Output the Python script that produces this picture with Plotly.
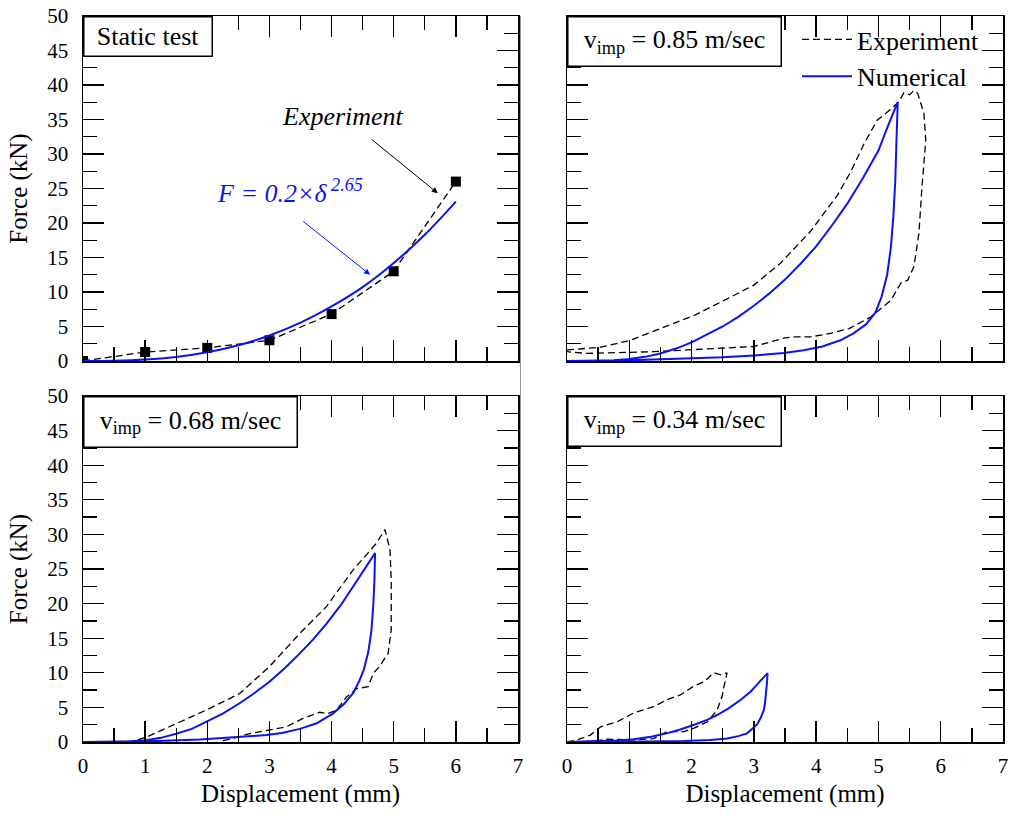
import plotly.graph_objects as go
from plotly.subplots import make_subplots

# ---- data ----
static_disp = [0, 1, 2, 3, 4, 5, 6]
static_force = [0.0, 1.3, 1.9, 3.0, 6.8, 13.0, 26.0]

fit_disp = [0, 0.5, 1, 1.5, 2, 2.5, 3, 3.5, 4, 4.5, 5, 5.5, 6]
fit_force = [0, 0.03, 0.2, 0.59, 1.26, 2.27, 3.69, 5.55, 7.9, 10.7, 14.2, 18.3, 23.1]

exp85_disp = [0, 0.54, 1.02, 1.55, 2.04, 2.57, 3.0, 3.43, 3.91, 4.34, 4.56, 4.77, 4.98, 5.2, 5.33,
              5.41, 5.5, 5.57, 5.63, 5.73, 5.76, 5.7, 5.65, 5.57, 5.47, 5.36, 5.2, 4.88, 4.53, 4.23,
              3.91, 3.64, 3.48, 3.0, 2.47, 1.93, 1.39, 0.86, 0.32, 0]
exp85_force = [1.6, 2.0, 3.0, 4.9, 6.6, 9.0, 11.0, 14.2, 18.8, 24.0, 27.5, 31.5, 34.9, 36.5, 37.6,
               38.9, 38.6, 39.2, 38.8, 35.9, 32.0, 25.3, 18.5, 13.7, 11.7, 11.3, 8.8, 6.4, 4.7, 4.0,
               3.5, 3.5, 3.3, 2.1, 1.8, 1.6, 1.35, 1.2, 1.1, 1.35]

num85_disp = [0, 0.5, 0.75, 1.0, 1.25, 1.5, 1.75, 2.0, 2.25, 2.5, 2.75, 3.0, 3.25, 3.5, 3.75,
              4.0, 4.25, 4.5, 4.75, 5.0, 5.15, 5.31,
              5.29, 5.27, 5.24, 5.2, 5.14, 5.05, 4.95, 4.8, 4.6, 4.39, 4.1, 3.8, 3.48, 3.0,
              2.5, 2.0, 1.5, 1.0, 0.5, 0]
num85_force = [0, 0.05, 0.12, 0.3, 0.6, 1.1, 1.8, 2.7, 3.8, 5.0, 6.4, 8.0, 9.8, 11.8, 14.1,
               16.6, 19.6, 22.8, 26.5, 30.5, 34.0, 37.5,
               32.0, 26.0, 21.0, 16.5, 12.5, 9.3, 7.0, 5.3, 4.0, 3.0, 2.1, 1.55, 1.15, 0.8,
               0.55, 0.38, 0.22, 0.1, 0.03, 0]

exp68_disp = [0, 0.8, 1.02, 1.5, 1.98, 2.52, 3.0, 3.49, 3.92, 4.35, 4.56, 4.72, 4.86,
              4.94, 4.96, 4.96, 4.91, 4.77, 4.67, 4.59, 4.4, 4.24, 4.08, 3.94, 3.81, 3.54,
              3.27, 3.0, 2.68, 2.41, 2.2]
exp68_force = [0, 0.1, 0.7, 2.7, 4.6, 7.0, 10.9, 15.7, 19.6, 24.9, 27.0, 28.7, 30.7,
               27.8, 23.4, 16.2, 12.8, 10.9, 9.9, 8.0, 7.7, 6.5, 4.6, 4.1, 4.3, 3.4,
               2.2, 1.7, 1.2, 0.5, 0.1]

num68_disp = [0, 0.5, 0.75, 1.02, 1.25, 1.5, 1.75, 1.98, 2.25, 2.52, 2.75, 3.0, 3.25, 3.49,
              3.7, 3.92, 4.15, 4.35, 4.55, 4.7,
              4.69, 4.67, 4.64, 4.59, 4.52, 4.45, 4.35, 4.2, 4.02, 3.76, 3.49, 3.2, 2.95,
              2.41, 1.88, 1.07, 0]
num68_force = [0, 0.03, 0.1, 0.25, 0.6, 1.2, 1.9, 2.9, 4.1, 5.6, 7.0, 8.7, 10.7, 12.8,
               14.8, 17.1, 19.8, 22.5, 25.2, 27.3,
               23.4, 19.5, 16.0, 13.0, 10.5, 8.9, 7.1, 5.5, 4.1, 2.7, 1.9, 1.3, 1.0,
               0.65, 0.35, 0.1, 0]

exp34_disp = [0, 0.16, 0.375, 0.54, 0.8, 1.07, 1.39, 1.6, 1.82, 2.04, 2.2, 2.36, 2.47, 2.57,
              2.52, 2.49, 2.41, 2.25, 2.04, 1.88, 1.6, 1.39, 1.07, 0.64, 0.32]
exp34_force = [0, 0.3, 1.0, 2.2, 2.9, 4.2, 5.1, 6.1, 6.8, 8.1, 8.7, 10.0, 9.7, 10.0,
               8.0, 6.6, 4.6, 2.9, 2.0, 1.5, 1.5, 0.5, 0.3, 0.4, 0.05]

num34_disp = [0, 0.54, 0.8, 1.07, 1.35, 1.6, 1.82, 2.04, 2.25, 2.41, 2.6, 2.79, 2.95, 3.05,
              3.15, 3.22,
              3.21, 3.2, 3.18, 3.16, 3.11, 3.05, 2.97, 2.89, 2.75, 2.57, 2.3, 1.88, 1.0, 0]
num34_force = [0, 0.1, 0.2, 0.4, 0.75, 1.25, 1.8, 2.5, 3.2, 3.9, 4.9, 6.1, 7.3, 8.3,
               9.2, 9.95,
               8.5, 7.0, 5.7, 4.6, 3.5, 2.5, 1.8, 1.25, 0.85, 0.5, 0.3, 0.15, 0.04, 0]

panel_labels = ["Static test", "v<sub>imp</sub> = 0.85 m/sec",
                "v<sub>imp</sub> = 0.68 m/sec", "v<sub>imp</sub> = 0.34 m/sec"]
x_ticks = [0, 1, 2, 3, 4, 5, 6, 7]
y_ticks = [0, 5, 10, 15, 20, 25, 30, 35, 40, 45, 50]

FONT = "Liberation Serif, Times New Roman, serif"
BLUE = "#0a14f0"
DASH = "7px,4px"

fig = make_subplots(rows=2, cols=2)

# static test
fig.add_trace(go.Scatter(x=static_disp, y=static_force, mode="lines+markers",
                         line=dict(color="black", width=1.3, dash=DASH),
                         marker=dict(symbol="square", size=10, color="black"),
                         showlegend=False), row=1, col=1)
fig.add_trace(go.Scatter(x=fit_disp, y=fit_force, mode="lines", line_shape="spline",
                         line=dict(color=BLUE, width=2), showlegend=False), row=1, col=1)

# dynamic tests
dyn = [(exp85_disp, exp85_force, num85_disp, num85_force, 1, 2),
       (exp68_disp, exp68_force, num68_disp, num68_force, 2, 1),
       (exp34_disp, exp34_force, num34_disp, num34_force, 2, 2)]
for i, (ex, ey, nx, ny, r, c) in enumerate(dyn):
    fig.add_trace(go.Scatter(x=ex, y=ey, mode="lines", name="Experiment",
                             line=dict(color="black", width=1.3, dash=DASH),
                             showlegend=(i == 0)), row=r, col=c)
    fig.add_trace(go.Scatter(x=nx, y=ny, mode="lines", name="Numerical",
                             line=dict(color=BLUE, width=2),
                             showlegend=(i == 0)), row=r, col=c)

# layout geometry
W, H = 1011, 816
ml, mr, mt, mb = 83, 8, 16, 74
pw, ph = W - ml - mr, H - mt - mb
xd1 = [0, 435 / pw]
xd2 = [(567 - ml) / pw, 1]
yd_top = [(742 - 361) / ph, 1]
yd_bot = [0, (742 - 396) / ph]

axis_common = dict(range=[0, 7], tickvals=x_ticks, ticks="inside", ticklen=21, tickwidth=1.3,
                   tickcolor="black", showline=True, linecolor="black", linewidth=1.5,
                   mirror="allticks", showgrid=False, zeroline=False, automargin=False,
                   ticklabelstandoff=4,
                   minor=dict(dtick=0.5, ticks="inside", ticklen=14, tickwidth=1.3,
                              tickcolor="black", showgrid=False),
                   tickfont=dict(family=FONT, size=21, color="black"))
yaxis_common = dict(range=[0, 50], tickvals=y_ticks, ticks="inside", ticklen=21, tickwidth=1.3,
                    tickcolor="black", showline=True, linecolor="black", linewidth=1.5,
                    mirror="allticks", showgrid=False, zeroline=False, automargin=False,
                    ticklabelstandoff=9,
                    minor=dict(dtick=2.5, ticks="inside", ticklen=14, tickwidth=1.3,
                               tickcolor="black", showgrid=False),
                    tickfont=dict(family=FONT, size=21, color="black"))

xtitle = dict(text="Displacement (mm)", font=dict(family=FONT, size=25, color="black"), standoff=8)
ytitle = dict(text="Force (kN)", font=dict(family=FONT, size=25, color="black"), standoff=12)

fig.update_layout(
    xaxis=dict(axis_common, domain=xd1, showticklabels=False),
    xaxis2=dict(axis_common, domain=xd2, showticklabels=False),
    xaxis3=dict(axis_common, domain=xd1, title=xtitle),
    xaxis4=dict(axis_common, domain=xd2, title=xtitle),
    yaxis=dict(yaxis_common, domain=yd_top, title=ytitle),
    yaxis2=dict(yaxis_common, domain=yd_top, showticklabels=False),
    yaxis3=dict(yaxis_common, domain=yd_bot, title=ytitle),
    yaxis4=dict(yaxis_common, domain=yd_bot, showticklabels=False),
)

# panel label boxes
box_specs = [("x domain", "y domain", 127, 38), ("x2 domain", "y2 domain", 212, 48),
             ("x3 domain", "y3 domain", 212, 49), ("x4 domain", "y4 domain", 212, 48)]
for lbl, (xr, yr, bw, bh) in zip(panel_labels, box_specs):
    fig.add_annotation(text=lbl, xref=xr, yref=yr, x=0, y=1, xanchor="left", yanchor="top",
                       showarrow=False, width=bw, height=bh, align="center", valign="middle",
                       bgcolor="white", bordercolor="black", borderwidth=1.5, borderpad=0,
                       font=dict(family=FONT, size=26, color="black"))

# arrows and labels in the static panel
fig.add_annotation(text="<i>Experiment</i>", x=4.18, y=35.4, xref="x", yref="y", showarrow=False,
                   font=dict(family=FONT, size=26, color="black"))
fig.add_annotation(x=5.71, y=24.3, ax=4.62, ay=32.3, xref="x", yref="y", axref="x", ayref="y",
                   text="", showarrow=True, arrowhead=2, arrowsize=1.2, arrowwidth=1, arrowcolor="black")
fig.add_annotation(text="<i>F = 0.2×δ<sup> 2.65</sup></i>", x=3.33, y=24.6, xref="x", yref="y",
                   showarrow=False, font=dict(family=FONT, size=26, color=BLUE))
fig.add_annotation(x=4.62, y=12.5, ax=3.52, ay=20.4, xref="x", yref="y", axref="x", ayref="y",
                   text="", showarrow=True, arrowhead=2, arrowsize=1.2, arrowwidth=1, arrowcolor=BLUE)

# thin gray separator line seen in the reference
fig.add_shape(type="line", xref="paper", yref="paper", x0=(520.5 - ml) / pw, x1=(520.5 - ml) / pw,
              y0=yd_bot[0], y1=yd_top[1], line=dict(color="#999999", width=1))

fig.update_layout(
    width=W, height=H, margin=dict(l=ml, r=mr, t=mt, b=mb, autoexpand=False),
    paper_bgcolor="white", plot_bgcolor="white",
    font=dict(family=FONT, color="black"),
    hovermode=False,
    legend=dict(x=(797 - ml) / pw, y=1.0, xanchor="left", yanchor="top",
                bgcolor="rgba(0,0,0,0)", borderwidth=0, itemwidth=50,
                font=dict(family=FONT, size=26, color="black"), tracegroupgap=0),
)

fig.write_html("out.html", config={"displayModeBar": False, "staticPlot": True},
               post_script="document.body.style.margin='0';document.body.style.overflow='hidden';")
